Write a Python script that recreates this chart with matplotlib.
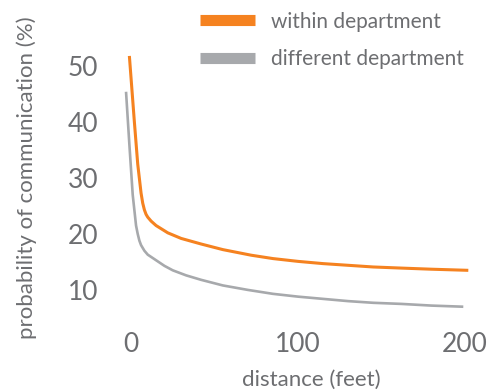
import matplotlib
matplotlib.use("Agg")
import matplotlib.pyplot as plt

# distance (feet) vs probability of communication (%)
within_dist = [-1, 2, 4, 6, 7, 8, 9, 10, 12, 15, 22, 30, 42, 55, 72, 85, 100, 115, 130, 145, 162, 180, 202]
within_prob = [51.8, 40.0, 32.5, 27.3, 25.5, 24.3, 23.5, 23.0, 22.3, 21.5, 20.2, 19.2, 18.2, 17.2, 16.2, 15.6, 15.1, 14.7, 14.4, 14.1, 13.9, 13.7, 13.5]

diff_dist = [-3, -1, 1, 3, 4, 5, 6, 8, 10, 14, 20, 25, 33, 42, 55, 70, 85, 100, 115, 130, 145, 162, 180, 199]
diff_prob = [45.4, 36.0, 27.0, 21.5, 20.0, 18.8, 18.0, 17.0, 16.3, 15.5, 14.3, 13.5, 12.6, 11.8, 10.8, 10.0, 9.3, 8.8, 8.4, 8.0, 7.7, 7.5, 7.2, 7.0]

x_ticks = [0, 100, 200]
y_ticks = [10, 20, 30, 40, 50]

ORANGE = "#F58220"
GREY = "#A7A9AC"
TEXT = "#6D6E71"

plt.rcParams["font.family"] = ["Lato", "DejaVu Sans"]

fig = plt.figure(figsize=(4.89, 3.92), dpi=100)
ax = fig.add_axes([0.227, 0.189, 0.758, 0.714])

ax.plot(within_dist, within_prob, color=ORANGE, lw=2.2, label="within department",
        solid_capstyle="butt")
ax.plot(diff_dist, diff_prob, color=GREY, lw=1.9, label="different department",
        solid_capstyle="butt")

ax.set_xlim(-12, 210)
ax.set_ylim(5, 55)
ax.set_xticks(x_ticks)
ax.set_yticks(y_ticks)
for s in ax.spines.values():
    s.set_visible(False)
ax.tick_params(length=0, labelsize=19, colors=TEXT, pad=10)
ax.tick_params(axis="y", pad=9)

ax.set_xlabel("distance (feet)", fontsize=16, color=TEXT)
ax.set_ylabel("probability of communication (%)", fontsize=16, color=TEXT)
ax.xaxis.set_label_coords((311 - 111) / 370.7, -0.185)
ax.yaxis.set_label_coords(-0.20, 0.5)

leg = ax.legend(loc="upper left", bbox_to_anchor=(181 / 489, 1 + 7 / 392),
                bbox_transform=fig.transFigure, frameon=False, fontsize=15,
                handlelength=2.65, handletextpad=0.75, labelspacing=0.85)
for line in leg.get_lines():
    line.set_linewidth(8)
for t in leg.get_texts():
    t.set_color(TEXT)

fig.savefig("out.png", dpi=100)
